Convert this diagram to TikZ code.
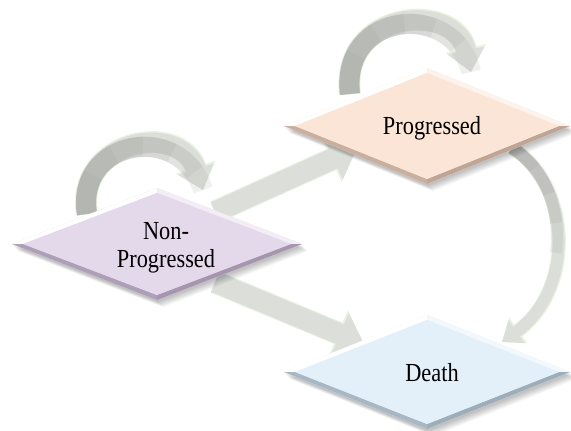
\documentclass[tikz,border=0pt]{standalone}
\usepackage{fontspec}
\setmainfont{Liberation Serif}
\usetikzlibrary{arrows.meta}
\definecolor{npmain}{HTML}{E4D8EB}
\definecolor{npdark}{HTML}{A595AF}
\definecolor{pmain}{HTML}{FBE5D6}
\definecolor{pdark}{HTML}{BFA596}
\definecolor{dmain}{HTML}{E3F0FA}
\definecolor{ddark}{HTML}{9DADBA}
\definecolor{arrlight}{HTML}{DCDEDA}
\definecolor{arrdark}{HTML}{A2A3A1}
\definecolor{arredge}{HTML}{EAF3E2}
\newcommand\bevdiam[7]{% name cx cy hw hh main dark
 \begin{scope}[shift={(#2,#3)}]
  \foreach \s in {1,...,6}{
   \fill[black,opacity=.045] (-#4+\s,\s+1) -- (\s,-#5+\s+1) -- (#4+\s,\s+1) -- (\s,#5+\s+1) -- cycle;}
  \fill[#6] (-#4,0) -- (0,-#5) -- (#4,0) -- (0,#5) -- cycle;
  \fill[white] (-#4,0) -- (0,-#5) -- (0,-#5+5) -- (-#4+11,0) -- cycle;
  \fill[#6!45!white] (0,-#5) -- (#4,0) -- (#4-11,0) -- (0,-#5+5) -- cycle;
  \fill[#7] (#4,0) -- (0,#5) -- (0,#5-5) -- (#4-11,0) -- cycle;
  \fill[#7!85!#6] (0,#5) -- (-#4,0) -- (-#4+11,0) -- (0,#5-5) -- cycle;
  \fill[#6] (-#4+11,0) -- (0,-#5+5) -- (#4-11,0) -- (0,#5-5) -- cycle;
  \coordinate (#1) at (0,0);
 \end{scope}}
\tikzset{
 lbl/.style={font=\fontsize{26}{28}\selectfont, align=center, inner sep=0pt},
 straightarr/.style={line width=21pt, draw=arrlight, -{Triangle[width=44pt,length=26pt]}},
 straightedge/.style={line width=23pt, draw=arredge, -{Triangle[width=48pt,length=28pt]}},
 loopedge/.style={line width=22pt, draw=arredge, -{Triangle[width=40pt,length=24pt]}},
 looparr/.style={line width=20pt, draw=arrlight, -{Triangle[width=36pt,length=22pt]}},
 thinedge/.style={line width=14pt, draw=arredge, -{Triangle[width=30pt,length=20pt]}},
 thinarr/.style={line width=12pt, draw=arrlight, -{Triangle[width=27pt,length=18pt]}},
 shadeseg/.style={line width=20pt, draw=arrdark, opacity=.16, line cap=butt},
 thinseg/.style={line width=12pt, draw=arrdark, opacity=.18, line cap=butt}
}
\begin{document}
\begin{tikzpicture}[x=1pt,y=-1pt]
\useasboundingbox (0,0) rectangle (571,431);
\fill[white] (0,0) rectangle (571,431);
% arrow endpoints
\coordinate (npl0) at (87,214);
\coordinate (npl1) at (203,190);
\coordinate (pl0) at (350,94);
\coordinate (pl1) at (471,72);
\coordinate (a0) at (215,212);
\coordinate (a1) at (357,148);
\coordinate (b0) at (215,282);
\coordinate (b1) at (364,344);
\coordinate (c0) at (512,148);
\coordinate (c1) at (502,342);
% self loop over Non-Progressed
\draw[loopedge] (npl0) .. controls (75,140) and (180,120) .. (npl1);
\draw[looparr] (npl0) .. controls (75,140) and (180,120) .. (npl1);
\foreach \l in {40,70,100,130,160,190}
 \draw[shadeseg, dash pattern=on \l pt off 2000pt] (npl0) .. controls (75,140) and (180,120) .. (npl1);
% self loop over Progressed
\draw[loopedge] (pl0) .. controls (340,10) and (455,0) .. (pl1);
\draw[looparr] (pl0) .. controls (340,10) and (455,0) .. (pl1);
\foreach \l in {40,70,100,130,160,190}
 \draw[shadeseg, dash pattern=on \l pt off 2000pt] (pl0) .. controls (340,10) and (455,0) .. (pl1);
% straight arrows
\draw[straightedge] (a0) -- (a1);
\draw[straightarr] (a0) -- (a1);
\draw[straightedge] (b0) -- (b1);
\draw[straightarr] (b0) -- (b1);
% Progressed -> Death
\draw[thinedge] (c0) .. controls (572,185) and (575,290) .. (c1);
\draw[thinarr] (c0) .. controls (572,185) and (575,290) .. (c1);
\foreach \l in {30,60,90,120}
 \draw[thinseg, dash pattern=on \l pt off 2000pt] (c0) .. controls (572,185) and (575,290) .. (c1);
% diamonds
\bevdiam{np}{157}{244}{145}{56}{npmain}{npdark}
\bevdiam{pr}{427}{126}{143}{58}{pmain}{pdark}
\bevdiam{de}{427}{372}{143}{57}{dmain}{ddark}
% labels
\node[lbl] (tnp) at (166,248) {\scalebox{.86}[1]{Non-}\\\scalebox{.86}[1]{Progressed}};
\node[lbl] (tpr) at (432,128) {\scalebox{.86}[1]{Progressed}};
\node[lbl] (tde) at (432,373) {\scalebox{.86}[1]{Death}};
\end{tikzpicture}
\end{document}
